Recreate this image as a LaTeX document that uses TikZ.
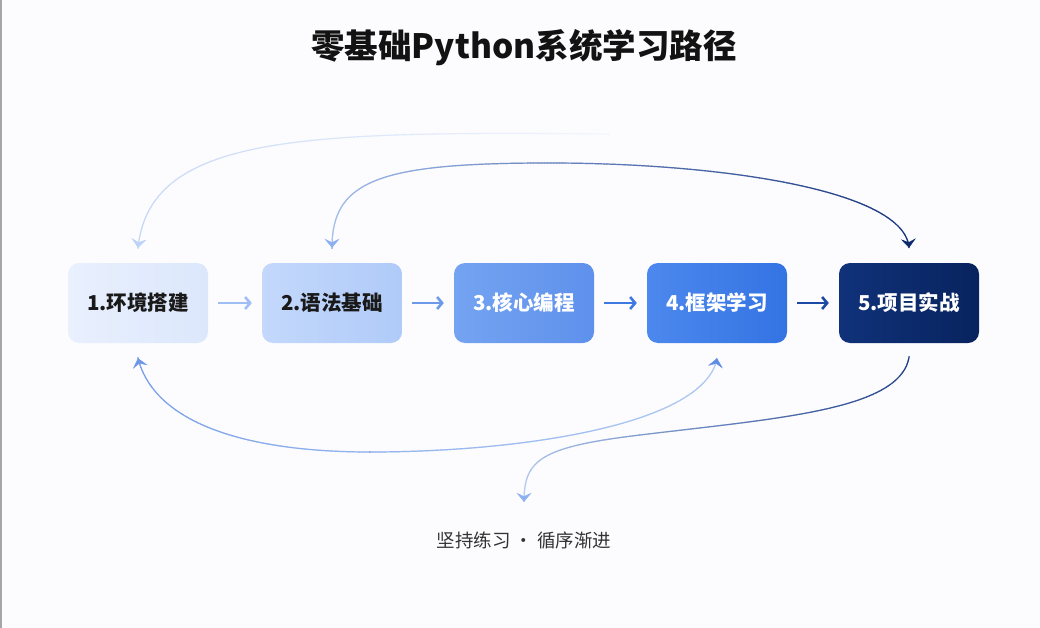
\documentclass[tikz,border=0pt]{standalone}
\usepackage{fontspec}
\usetikzlibrary{arrows.meta,decorations.markings}
\newfontfamily\cjk{Noto Sans CJK SC}
\definecolor{bgc}{HTML}{FCFCFE}
\definecolor{b1l}{HTML}{E9F0FE}\definecolor{b1r}{HTML}{DCE7FC}
\definecolor{b2l}{HTML}{C3D8FB}\definecolor{b2r}{HTML}{B0CBF9}
\definecolor{b3l}{HTML}{74A3F1}\definecolor{b3r}{HTML}{5E91EC}
\definecolor{b4l}{HTML}{4C88ED}\definecolor{b4r}{HTML}{3473E3}
\definecolor{b5l}{HTML}{10327A}\definecolor{b5r}{HTML}{08235E}
\definecolor{fa1}{HTML}{9FBFF4}\definecolor{fa2}{HTML}{6C9AE9}
\definecolor{fa3}{HTML}{3E78E2}\definecolor{fa4}{HTML}{1C49A6}
\definecolor{aS}{HTML}{C3D6F7}\definecolor{aE}{HTML}{F3F6FD}
\definecolor{bS}{HTML}{A9C4F2}\definecolor{bE}{HTML}{12307A}
\definecolor{cS}{HTML}{78A0E8}\definecolor{cE}{HTML}{B3CBF4}
\definecolor{dS}{HTML}{1B3C86}\definecolor{dE}{HTML}{B7CEF5}
\definecolor{tA}{HTML}{BCD2F6}\definecolor{tBl}{HTML}{8BB0F0}\definecolor{tBr}{HTML}{0D2A6A}
\definecolor{tCl}{HTML}{6D97E6}\definecolor{tCr}{HTML}{5E8DE4}\definecolor{tD}{HTML}{8DB0EF}
\tikzset{
  stepbox/.style n args={3}{rectangle, rounded corners=11pt, minimum width=140pt,
    minimum height=80pt, inner sep=0pt, left color=#1, right color=#2, text=#3,
    font=\cjk\bfseries\fontsize{20.5}{24}\selectfont},
  flowarrow/.style={line width=2.6pt, -{Straight Barb[length=5pt,width=12pt]}},
  gradcurve/.style n args={3}{postaction={decorate, decoration={markings,
    mark=between positions 0 and 1 step 1.5pt with {
      \pgfmathsetmacro\gq{\pgfkeysvalueof{/pgf/decoration/mark info/distance from start}/\pgfdecoratedpathlength}
      \pgfmathtruncatemacro\gfr{max(0,min(100,100-\gq*100))}
      \colorlet{gtmp}{#1!\gfr!#2}
      \draw[gtmp, line width=#3] (-1pt,0) -- (1pt,0);
    }}}},
  endtip/.style={postaction={decorate, decoration={markings,
    mark=at position 1 with {\arrow[#1]{Stealth[length=9pt,width=15pt,inset=3.5pt]}}}}},
  starttip/.style={postaction={decorate, decoration={markings,
    mark=at position 0 with {\arrowreversed[#1]{Stealth[length=9pt,width=15pt,inset=3.5pt]}}}}}
}
\begin{document}
\begin{tikzpicture}[x=1pt,y=-1pt]
\useasboundingbox (0,0) rectangle (1040,628);
\fill[bgc] (0,0) rectangle (1040,628);
\draw[gray!70, line width=1.5pt] (0.75,0) -- (0.75,628);

\node[font=\cjk\bfseries\fontsize{33.5}{38}\selectfont, text=black!93] (title) at (524,48) {零基础Python系统学习路径};

\node[stepbox={b1l}{b1r}{black!90}] (n1) at (138,303) {1.环境搭建};
\node[stepbox={b2l}{b2r}{black!90}] (n2) at (332,303) {2.语法基础};
\node[stepbox={b3l}{b3r}{white}] (n3) at (524,303) {3.核心编程};
\node[stepbox={b4l}{b4r}{white}] (n4) at (717,303) {4.框架学习};
\node[stepbox={b5l}{b5r}{white}] (n5) at (909,303) {5.项目实战};

\draw[flowarrow, fa1] ([xshift=10pt]n1.east) -- ([xshift=-10pt]n2.west);
\draw[flowarrow, fa2] ([xshift=10pt]n2.east) -- ([xshift=-10pt]n3.west);
\draw[flowarrow, fa3] ([xshift=10pt]n3.east) -- ([xshift=-10pt]n4.west);
\draw[flowarrow, fa4] ([xshift=10pt]n4.east) -- ([xshift=-10pt]n5.west);

\node[font=\cjk\fontsize{18.5}{22}\selectfont, text=black!80] (motto) at (524,540) {坚持练习 · 循序渐进};

\coordinate (afree) at (610,134);
% curve A
\path[gradcurve={aS}{aE}{1.1pt}, starttip={color=tA}]
  ([yshift=15pt]n1.north) .. controls (150,135) and (300,131) .. (afree);
% curve B
\path[gradcurve={bS}{bE}{1.2pt}, starttip={color=tBl}, endtip={color=tBr}]
  ([yshift=15pt]n2.north) .. controls (332,180) and (380,163) .. (549,163)
  .. controls (720,163) and (905,190) .. ([yshift=15pt]n5.north);
% curve C
\path[gradcurve={cS}{cE}{1.2pt}, starttip={color=tCl}, endtip={color=tCr}]
  ([yshift=-15pt]n1.south) .. controls (155,425) and (250,452) .. (370,452)
  .. controls (520,452) and (705,425) .. ([yshift=-15pt]n4.south);
% curve D
\path[gradcurve={dS}{dE}{1.2pt}, endtip={color=tD}]
  ([yshift=-14pt]n5.south) .. controls (900,410) and (780,418) .. (640,435)
  .. controls (540,447) and (524,460) .. ([yshift=26pt]motto.north);
\end{tikzpicture}
\end{document}
